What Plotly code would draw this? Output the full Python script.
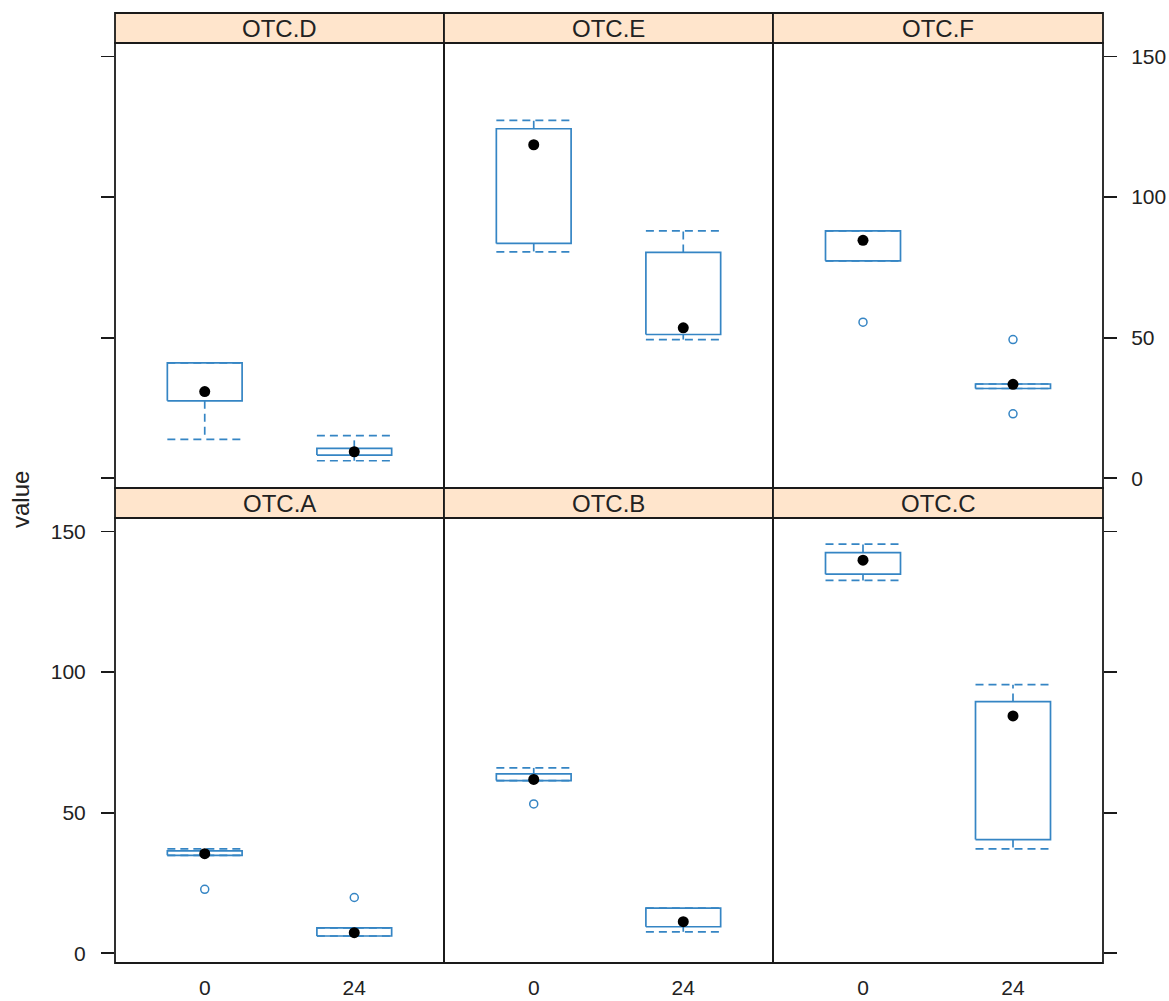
import plotly.graph_objects as go

# ---------------- data ----------------
panel_names = ["OTC.A", "OTC.B", "OTC.C", "OTC.D", "OTC.E", "OTC.F"]
time_labels = ["0", "24"]

# per panel: [time 0, time 24]
q1_vals = [[34.8, 6.1], [61.4, 9.4], [134.8, 40.4], [27.5, 8.2], [83.5, 51.1], [77.3, 31.9]]
q3_vals = [[36.4, 9.0], [63.8, 16.0], [142.5, 89.5], [41.0, 10.6], [124.3, 80.3], [88.0, 33.5]]
median_vals = [[35.4, 7.3], [61.8, 11.2], [139.8, 84.4], [30.8, 9.4], [118.6, 53.5], [84.6, 33.4]]
lower_whisker = [[34.8, 6.1], [61.4, 7.6], [132.6, 37.1], [13.8, 6.2], [80.5, 49.3], [77.3, 31.9]]
upper_whisker = [[37.1, 9.0], [65.9, 16.0], [145.5, 95.5], [41.0, 15.1], [127.3, 88.0], [88.0, 33.5]]
outliers = [[[22.7], [19.8]], [[53.1], []], [[], []], [[], []], [[], []], [[55.5], [49.3, 22.9]]]

y_ticks = [0, 50, 100, 150]

# ---------------- style / layout ----------------
W, H = 1169, 1001
ML, MT = 115, 13
PW, PH = 988, 950
MR, MB = W - ML - PW, H - MT - PH
BLUE = "#3585c4"
LINE = "#1a1a1a"
FONT = "Liberation Sans, Arial, sans-serif"
STRIP_H = 30
PANEL_H = 445
COL_W = 329
BOX_HALF = 0.25
TICK_SIZE = 21
BIG_SIZE = 24

fig = go.Figure()
layout = dict(
    width=W, height=H, autosize=False,
    margin=dict(l=ML, r=MR, t=MT, b=MB, pad=0, autoexpand=False),
    paper_bgcolor="white", plot_bgcolor="white",
    showlegend=False, font=dict(family=FONT, color="#222", size=TICK_SIZE),
    shapes=[], annotations=[],
)

for i, name in enumerate(panel_names):
    row = 0 if i < 3 else 1  # 0 = bottom row, 1 = top row
    col = i % 3
    ax = i + 1
    xd0 = col * COL_W / PW
    xd1 = 1.0 if col == 2 else (col + 1) * COL_W / PW
    yd0 = 0.0 if row == 0 else (PANEL_H + STRIP_H) / PH
    yd1 = yd0 + PANEL_H / PH
    xs = "x" if ax == 1 else f"x{ax}"
    ys = "y" if ax == 1 else f"y{ax}"

    for k, t in enumerate(time_labels):
        xc = k + 1
        a, b = q1_vals[i][k], q3_vals[i][k]
        lo, hi = lower_whisker[i][k], upper_whisker[i][k]
        # whiskers (dashed)
        fig.add_trace(go.Scatter(
            x=[xc, xc, None, xc - BOX_HALF, xc + BOX_HALF, None,
               xc, xc, None, xc - BOX_HALF, xc + BOX_HALF],
            y=[b, hi, None, hi, hi, None, a, lo, None, lo, lo],
            mode="lines", line=dict(color=BLUE, width=1.7, dash="8px,5px"),
            xaxis=xs, yaxis=ys, hoverinfo="skip"))
        # box
        fig.add_trace(go.Scatter(
            x=[xc - BOX_HALF, xc + BOX_HALF, xc + BOX_HALF, xc - BOX_HALF, xc - BOX_HALF],
            y=[a, a, b, b, a],
            mode="lines", line=dict(color=BLUE, width=1.7),
            xaxis=xs, yaxis=ys, hoverinfo="skip"))
        # median dot
        fig.add_trace(go.Scatter(
            x=[xc], y=[median_vals[i][k]], mode="markers",
            marker=dict(color="black", size=11, symbol="circle"),
            xaxis=xs, yaxis=ys))
        # outliers
        outs = outliers[i][k]
        if outs:
            fig.add_trace(go.Scatter(
                x=[xc] * len(outs), y=outs, mode="markers",
                marker=dict(color=BLUE, size=8, symbol="circle-open",
                            line=dict(color=BLUE, width=1.5)),
                xaxis=xs, yaxis=ys))

    xkey = "xaxis" if ax == 1 else f"xaxis{ax}"
    ykey = "yaxis" if ax == 1 else f"yaxis{ax}"
    layout[xkey] = dict(
        domain=[xd0, xd1], anchor=ys, range=[0.4, 2.6], automargin=False,
        tickvals=[1, 2], ticktext=time_labels, ticks="",
        showticklabels=(row == 0), ticklabelstandoff=10,
        showline=False, showgrid=False, zeroline=False, fixedrange=True,
        tickfont=dict(size=TICK_SIZE, color="#222"),
    )
    yax = dict(
        domain=[yd0, yd1], anchor=xs, range=[-3.5, 154.8], automargin=False,
        tickvals=y_ticks, showline=False, showgrid=False, zeroline=False,
        fixedrange=True, tickfont=dict(size=TICK_SIZE, color="#222"),
    )
    if col == 0:
        yax.update(side="left", ticks="outside", ticklen=13, tickcolor=LINE,
                   tickwidth=1.8, showticklabels=(row == 0), ticklabelstandoff=11)
    elif col == 2:
        yax.update(side="right", ticks="outside", ticklen=13, tickcolor=LINE,
                   tickwidth=1.8, showticklabels=(row == 1), ticklabelstandoff=10)
    else:
        yax.update(ticks="", showticklabels=False)
    layout[ykey] = yax

    # panel border
    layout["shapes"].append(dict(
        type="rect", xref="paper", yref="paper", x0=xd0, x1=xd1, y0=yd0, y1=yd1,
        fillcolor="rgba(0,0,0,0)", line=dict(color=LINE, width=1.8), layer="above"))
    # strip
    s0 = yd1
    s1 = yd1 + STRIP_H / PH
    layout["shapes"].append(dict(
        type="rect", xref="paper", yref="paper", x0=xd0, x1=xd1, y0=s0, y1=s1,
        fillcolor="#ffe5cc", line=dict(color=LINE, width=1.8), layer="above"))
    layout["annotations"].append(dict(
        text=name, xref="paper", yref="paper", x=(xd0 + xd1) / 2, y=(s0 + s1) / 2,
        xanchor="center", yanchor="middle", showarrow=False,
        font=dict(size=BIG_SIZE, color="#222", family=FONT)))

layout["annotations"].append(dict(
    text="value", xref="paper", yref="paper", x=(20 - ML) / PW, y=(MT + PH - 500) / PH,
    xanchor="center", yanchor="middle", showarrow=False, textangle=-90,
    font=dict(size=BIG_SIZE, color="#222", family=FONT)))

fig.update_layout(**layout)
fig.write_html(
    "out.html",
    config={"displayModeBar": False, "staticPlot": True},
    post_script="document.body.style.margin='0';"
                "document.documentElement.style.overflow='hidden';",
)
